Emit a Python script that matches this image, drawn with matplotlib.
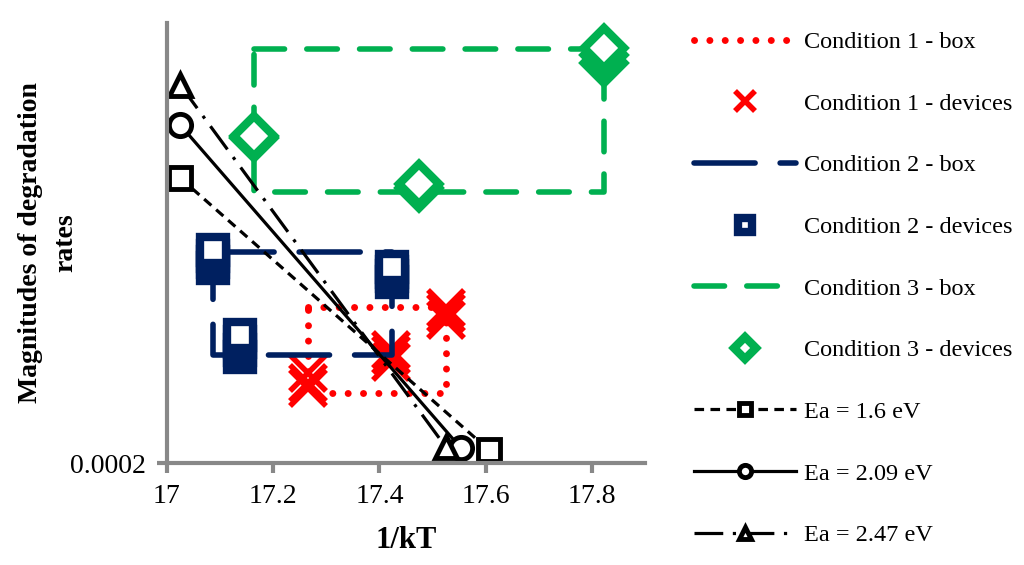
import numpy as np
import matplotlib
matplotlib.use("Agg")
import matplotlib.pyplot as plt
from matplotlib.ticker import FixedLocator, NullLocator

plt.rcParams['font.family'] = ['Liberation Serif', 'DejaVu Serif']

## colours of the three conditions
red = '#FF0000'
navy = '#002060'
green = '#00B050'

### Condition 1 (red) : box corners and devices
c1_box_x = [17.266, 17.526]
c1_box_y = [0.000414, 0.001012]
c1_dev_x = [17.266, 17.266, 17.266, 17.421, 17.421, 17.421, 17.526, 17.526, 17.526]
c1_dev_y = [0.000436, 0.000459, 0.000510, 0.000571, 0.000615, 0.000647, 0.000884, 0.000951, 0.001002]

### Condition 2 (navy)
c2_box_x = [17.087, 17.423]
c2_box_y = [0.000615, 0.001794]
c2_dev_x = [17.087, 17.087, 17.087, 17.087, 17.138, 17.138, 17.138, 17.138,
            17.423, 17.423, 17.423, 17.423]
c2_dev_y = [0.00152, 0.00162, 0.00172, 0.00183, 0.00060, 0.00065, 0.00070, 0.00076,
            0.00131, 0.00139, 0.00146, 0.00154]

### Condition 3 (green)
c3_box_x = [17.164, 17.823]
c3_box_y = [0.003346, 0.01479]
c3_dev_x = [17.164, 17.164, 17.474, 17.474, 17.823, 17.823, 17.823]
c3_dev_y = [0.00585, 0.00600, 0.00350, 0.00362, 0.01279, 0.01390, 0.01495]

### Arrhenius lines
ea_labels = ['Ea = 1.6 eV', 'Ea = 2.09 eV', 'Ea = 2.47 eV']
ea_x = [[17.025, 17.606], [17.025, 17.553], [17.025, 17.525]]
ea_y = [[0.00387, 0.000229], [0.006714, 0.000234], [0.01017, 0.000236]]


def box(x, y):
    """closed rectangle from two corners"""
    bx = [x[0], x[1], x[1], x[0], x[0]]
    by = [y[1], y[1], y[0], y[0], y[1]]
    return bx, by


fig = plt.figure(figsize=(10.24, 5.65), dpi=100)
ax = fig.add_axes([0.163, 0.1805, 0.467, 0.779])
ax.set_yscale('log')

bx, by = box(c1_box_x, c1_box_y)
ax.plot(bx, by, color=red, lw=5, linestyle=(0, (0.01, 2.2)), dash_capstyle='round',
        label='Condition 1 - box')
ax.plot(c1_dev_x, c1_dev_y, linestyle='none', marker='x', ms=26, mew=4, color=red,
        label='Condition 1 - devices')

bx, by = box(c2_box_x, c2_box_y)
ax.plot(bx, by, color=navy, lw=4, linestyle=(0, (11, 4.5)), dash_capstyle='round',
        label='Condition 2 - box')
ax.plot(c2_dev_x, c2_dev_y, linestyle='none', marker='s', ms=19, mew=6, mfc='white',
        mec=navy, label='Condition 2 - devices')

bx, by = box(c3_box_x, c3_box_y)
ax.plot(bx, by, color=green, lw=4, linestyle=(0, (5.5, 4)), dash_capstyle='round',
        label='Condition 3 - box')
ax.plot(c3_dev_x, c3_dev_y, linestyle='none', marker='D', ms=20, mew=6, mfc='white',
        mec=green, label='Condition 3 - devices', clip_on=False)

styles = [(0, (3, 2)), '-', (0, (9, 3, 1, 3))]
marks = ['s', 'o', '^']
for lab, xs, ys, ls, mk in zip(ea_labels, ea_x, ea_y, styles, marks):
    ax.plot(xs, ys, color='black', lw=2.3, linestyle=ls, marker=mk, ms=16, mew=3.5,
            mfc='white', mec='black', label=lab, clip_on=False)

ax.set_xlim(17, 17.9)
ax.set_ylim(2e-4, 0.0194)
ax.set_xticks([17, 17.2, 17.4, 17.6, 17.8])
ax.set_xticklabels(['17', '17.2', '17.4', '17.6', '17.8'])
ax.yaxis.set_major_locator(FixedLocator([2e-4]))
ax.yaxis.set_minor_locator(NullLocator())
ax.set_yticklabels(['0.0002'])

for s in ['top', 'right']:
    ax.spines[s].set_visible(False)
for s in ['left', 'bottom']:
    ax.spines[s].set_color('#888888')
    ax.spines[s].set_linewidth(3)
ax.tick_params(axis='both', colors='#888888', width=3, length=7, labelsize=20,
               labelcolor='black', pad=8)

ax.set_xlabel('1/kT', fontsize=22, fontweight='bold', labelpad=12)
ax.set_ylabel('Magnitudes of degradation\nrates', fontsize=20, fontweight='bold',
              linespacing=1.55)
ax.yaxis.set_label_coords(-0.185, 0.5)

handles, labels = ax.get_legend_handles_labels()
fig.legend(handles, labels, loc='upper left', bbox_to_anchor=(0.668, 0.962),
           frameon=False, fontsize=17.5, handlelength=4.2, handletextpad=0.35,
           labelspacing=1.63, markerscale=0.55, borderaxespad=0)

fig.savefig('out.png', dpi=100)
